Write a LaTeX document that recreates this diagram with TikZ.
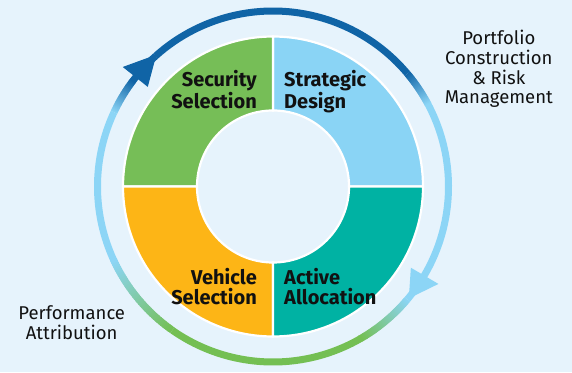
\documentclass[tikz,border=0pt]{standalone}
\usepackage{fontspec}
\setmainfont{Fira Sans}
\definecolor{bg}{HTML}{E6F3FC}
\definecolor{secgreen}{HTML}{76BE57}
\definecolor{secblue}{HTML}{8AD4F5}
\definecolor{secteal}{HTML}{00B2A3}
\definecolor{secorange}{HTML}{FDB516}
\definecolor{dkblue}{HTML}{1064A6}
\definecolor{ltring}{HTML}{8CD5F6}
\definecolor{grring}{HTML}{74BF53}
\definecolor{txt}{HTML}{111111}
\newcommand{\gradarc}[4]{%
  \foreach \k in {0,...,39}{%
    \pgfmathsetmacro\aa{#1+(#2)*\k/40}%
    \pgfmathsetmacro\dd{(#2)/40*1.6}%
    \pgfmathsetmacro\pp{100-100*(\k+0.5)/40}%
    \draw[ringline,color=#3!\pp!#4] (\aa:\RR) arc[start angle=\aa, delta angle=\dd, radius=\RR];
  }}
\def\RR{175.5}
\begin{document}
\begin{tikzpicture}[x=1pt,y=1pt,
  sector/.style={draw=white,line width=2.2pt},
  ringline/.style={line width=7pt},
  seclabel/.style={font=\fontsize{20}{19.5}\selectfont\bfseries, text=txt, inner sep=0pt},
  sidetext/.style={font=\fontsize{18.5}{19.7}\selectfont, text=txt, inner sep=0pt, align=center}]
\fill[bg] (0,0) rectangle (572,372);
\useasboundingbox (0,0) rectangle (572,372);
\begin{scope}[shift={(273,185.5)}]
  % donut sectors
  \fill[secblue,sector] (0:150) arc[start angle=0,end angle=90,radius=150] -- (90:76) arc[start angle=90,end angle=0,radius=76] -- cycle;
  \fill[secgreen,sector] (90:150) arc[start angle=90,end angle=180,radius=150] -- (180:76) arc[start angle=180,end angle=90,radius=76] -- cycle;
  \fill[secorange,sector] (180:150) arc[start angle=180,end angle=270,radius=150] -- (270:76) arc[start angle=270,end angle=180,radius=76] -- cycle;
  \fill[secteal,sector] (270:150) arc[start angle=270,end angle=360,radius=150] -- (0:76) arc[start angle=360,end angle=270,radius=76] -- cycle;
  % ring
  \draw[ringline,dkblue] (132:\RR) arc[start angle=132, end angle=40, radius=\RR];
  \gradarc{40}{-12}{dkblue}{ltring}
  \draw[ringline,ltring] (28:\RR) arc[start angle=28, end angle=-40, radius=\RR];
  \gradarc{-40}{-20}{ltring}{grring}
  \draw[ringline,grring] (-60:\RR) arc[start angle=-60, end angle=-125, radius=\RR];
  \gradarc{-125}{-30}{grring}{ltring}
  \draw[ringline,ltring] (-155:\RR) arc[start angle=-155, end angle=-205, radius=\RR];
  \gradarc{-205}{-12}{ltring}{dkblue}
  \draw[ringline,dkblue] (-217:\RR) arc[start angle=-217, end angle=-228, radius=\RR];
  % arrowheads
  \fill[dkblue] (141.5:192) -- (131.5:176) -- (141.5:160) -- cycle;
  \fill[ltring] (-30.5:160) -- (-39.5:176) -- (-30.5:192) -- cycle;
\end{scope}
\node[seclabel, align=right, anchor=north east] (sec) at (257,301.5) {Security\\Selection};
\node[seclabel, align=left, anchor=north west] (str) at (284,301.5) {Strategic\\Design};
\node[seclabel, align=right, anchor=north east] (veh) at (257,103.7) {Vehicle\\Selection};
\node[seclabel, align=left, anchor=north west] (act) at (284,103.7) {Active\\Allocation};
\node[sidetext, anchor=north] (pcr) at (498.8,342) {Portfolio\\Construction\\\&\ Risk\\Management};
\node[sidetext, anchor=north] (pa) at (71.7,66.5) {Performance\\Attribution};
\end{tikzpicture}
\end{document}
